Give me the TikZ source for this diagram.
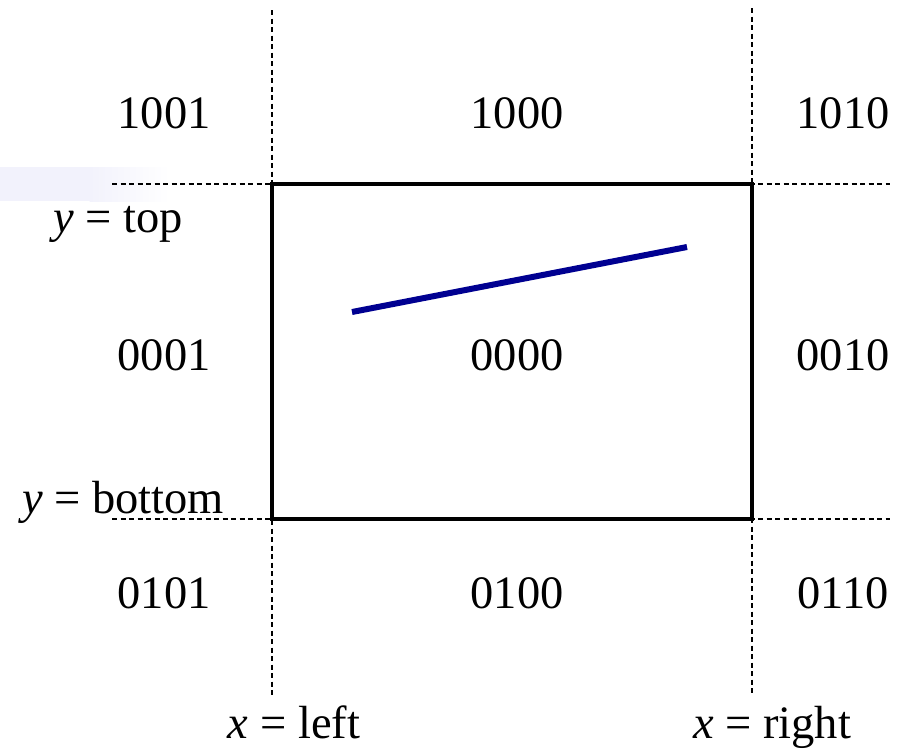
\documentclass[tikz,border=0pt]{standalone}
\usepackage{fontspec}
\setmainfont{Liberation Serif}
\definecolor{segblue}{RGB}{0,0,145}
\definecolor{haze}{RGB}{242,242,252}
\begin{document}
\begin{tikzpicture}[x=1pt,y=-1pt,
  guide/.style={draw=black,line width=1.3pt,dash pattern=on 5pt off 3.5pt},
  code/.style={font=\fontsize{46.5}{50}\selectfont,inner sep=0pt,anchor=base},
  eqlabel/.style={font=\fontsize{46.5}{50}\selectfont,inner sep=0pt,anchor=base}]
\useasboundingbox (0,0) rectangle (904,750);
\fill[haze] (0,167) rectangle (90,201);
\shade[left color=haze,right color=white,draw=none] (89.5,167) rectangle (170,201);
% guide lines
\coordinate (vlt) at (272,10);  \coordinate (vlb) at (272,695);
\coordinate (vrt) at (752,8);   \coordinate (vrb) at (752,695);
\coordinate (htl) at (112,184); \coordinate (htr) at (890,184);
\coordinate (hbl) at (112,519); \coordinate (hbr) at (890,519);
\draw[guide] (vlt) -- (vlb);
\draw[guide] (vrt) -- (vrb);
\draw[guide] (htl) -- (htr);
\draw[guide] (hbl) -- (hbr);
% window
\node[draw=black,line width=3.2pt,minimum width=480pt,minimum height=335pt,inner sep=0pt,fill=white] (box) at (512,351.5) {};
% segment
\coordinate (p1) at (352,312);
\coordinate (p2) at (687,247);
\draw[segblue,line width=6pt] (p1) -- (p2);
% region codes
\node[code] (c1001) at (164,128.5) {1001};
\node[code] (c1000) at (517,128.5) {1000};
\node[code] (c1010) at (843,128.5) {1010};
\node[code] (c0001) at (164,370.5) {0001};
\node[code] (c0000) at (517,370.5) {0000};
\node[code] (c0010) at (843,370.5) {0010};
\node[code] (c0101) at (164,608.5) {0101};
\node[code] (c0100) at (517,608.5) {0100};
\node[code] (c0110) at (843,608.5) {0110};
% boundary labels
\node[eqlabel] (ytop) at (118,232) {\textit{y} = top};
\node[eqlabel] (ybot) at (123,513) {\textit{y} = bottom};
\node[eqlabel] (xleft) at (294,738) {\textit{x} = left};
\node[eqlabel] (xright) at (772,738) {\textit{x} = right};
\end{tikzpicture}
\end{document}
